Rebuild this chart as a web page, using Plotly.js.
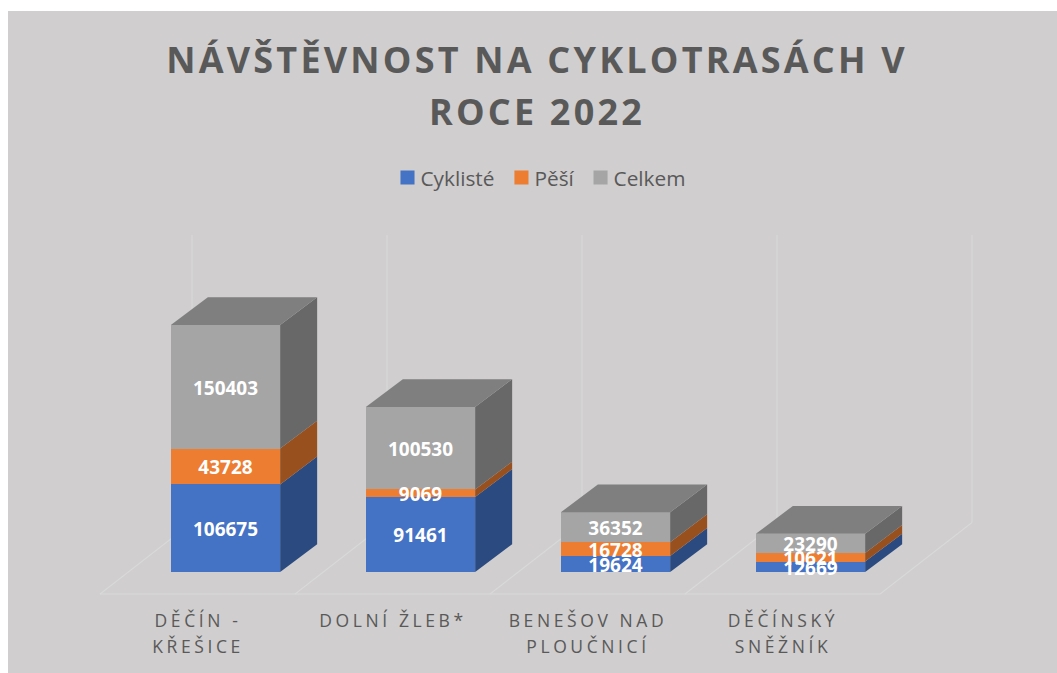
<!DOCTYPE html>
<html><head><meta charset="utf-8">
<script src="https://cdn.plot.ly/plotly-3.0.1.min.js"></script>
<style>
html,body{margin:0;padding:0;background:#fff;overflow:hidden}
#chart{position:absolute;left:8px;top:11px;width:1049px;height:662px}
.gtitle{letter-spacing:3.2px}
.xtick text{letter-spacing:3.6px}
.legend .traces:nth-child(1) .legendpoints path{transform:translateX(26px) scale(1.17)}
.legend .traces:nth-child(2) .legendpoints path{transform:translateX(21px) scale(1.17)}
.legend .traces:nth-child(3) .legendpoints path{transform:translateX(15px) scale(1.17)}
.legend .traces:nth-child(1) .legendtext{transform:translateX(-1px)}
.legend .traces:nth-child(2) .legendtext{transform:translateX(-6px)}
.legend .traces:nth-child(3) .legendtext{transform:translateX(-12px)}
</style></head><body><div id="chart"></div>
<script>
const categories=[["DĚČÍN -","KŘEŠICE"],["DOLNÍ ŽLEB*"],["BENEŠOV NAD","PLOUČNICÍ"],["DĚČÍNSKÝ","SNĚŽNÍK"]];
const cyklisté=[106675,91461,19624,12669];
const pěší=[43728,9069,16728,10621];
const celkem=[150403,100530,36352,23290];
const seriesNames=["Cyklisté","Pěší","Celkem"];
const frontColors=["#4472c4","#ed7d31","#a5a5a5"];
const sideColors=["#2a4a80","#98501f","#686868"];
const topColor="#7f7f7f";

// scale: page pixels per axis unit
const PX_X=195, K=1218;
const BAR_W=109.3/PX_X;
const DX=37/PX_X, DY=27.8*K;           // bar depth
const CX=92/PX_X, CY=71.5*K;            // floor depth
const LABEL_NUDGE=3*K;                  // text baseline correction
const idx=categories.map((_,i)=>i);
const series=[cyklisté,pěší,celkem];
const bases=series.map((s,k)=>s.map((_,i)=>series.slice(0,k).reduce((a,b)=>a+b[i],0)));

const traces=[];
series.forEach((s,k)=>{
  traces.push({type:'bar',name:seriesNames[k],x:idx,y:s,width:BAR_W,
    marker:{color:frontColors[k],line:{width:0}},hoverinfo:'skip'});
});
// side faces
series.forEach((s,k)=>{
  const xs=[],ys=[];
  idx.forEach(i=>{
    const r=i+BAR_W/2,b=bases[k][i],t=b+s[i];
    xs.push(r,r+DX,r+DX,r,r,null);
    ys.push(b,b+DY,t+DY,t,b,null);
  });
  traces.push({type:'scatter',mode:'lines',x:xs,y:ys,fill:'toself',fillcolor:sideColors[k],
    line:{width:0},showlegend:false,hoverinfo:'skip'});
});
// top faces
{
  const xs=[],ys=[];
  idx.forEach(i=>{
    const l=i-BAR_W/2,r=i+BAR_W/2,t=cyklisté[i]+pěší[i]+celkem[i];
    xs.push(l,r,r+DX,l+DX,l,null);
    ys.push(t,t,t+DY,t+DY,t,null);
  });
  traces.push({type:'scatter',mode:'lines',x:xs,y:ys,fill:'toself',fillcolor:topColor,
    line:{width:0},showlegend:false,hoverinfo:'skip'});
}
// data labels
series.forEach((s,k)=>{
  traces.push({type:'scatter',mode:'text',x:idx,y:s.map((v,i)=>bases[k][i]+v/2-LABEL_NUDGE),
    text:s.map(String),textposition:'middle center',
    textfont:{family:'"Open Sans",sans-serif',size:19,color:'#fff',weight:700},
    showlegend:false,hoverinfo:'skip'});
});

// grid lines of the floor and wall, as axis-referenced shapes beneath the bars
const GL={type:'line',xref:'x',yref:'y',layer:'below',line:{color:'#d9d9d9',width:1.2}};
const FRONT_Y=-22*K, TOP_Y=337*K, FIRST=(100-225.5)/PX_X;
const shapes=[Object.assign({},GL,{x0:FIRST,x1:FIRST+4,y0:FRONT_Y,y1:FRONT_Y})];
[0,1,2,3,4].forEach(i=>{
  const x=FIRST+i;
  shapes.push(Object.assign({},GL,{x0:x,x1:x+CX,y0:FRONT_Y,y1:FRONT_Y+CY}));
  shapes.push(Object.assign({},GL,{x0:x+CX,x1:x+CX,y0:FRONT_Y+CY,y1:TOP_Y}));
});

const SP=s=>'<span style="font-size:17.5px">'+s+'</span>';
const layout={
  width:1049,height:662,margin:{l:0,r:0,t:0,b:73,pad:0},
  paper_bgcolor:'#d0cece',plot_bgcolor:'rgba(0,0,0,0)',barmode:'stack',
  font:{family:'"Open Sans",sans-serif',color:'#595959'},
  title:{text:'<span style="font-size:36px">NÁVŠTĚVNOST NA CYKLOTRASÁCH V</span><br><span style="font-size:36px">ROCE 2022</span>',
    font:{family:'"Open Sans",sans-serif',size:40,color:'#595959',weight:700},
    x:(537-8)/1049,xanchor:'center',xref:'paper',y:1-(62/662),yanchor:'top',automargin:false},
  legend:{orientation:'h',x:(542-8)/1049,xanchor:'center',y:1-(146.5/589),yanchor:'top',yref:'paper',xref:'paper',
    font:{family:'"Open Sans",sans-serif',size:20.8,color:'#595959'},bgcolor:'rgba(0,0,0,0)',traceorder:'normal'},
  xaxis:{range:[(8-225.5)/PX_X,(1057-225.5)/PX_X],tickmode:'array',
    tickvals:idx.map(i=>i-27.5/PX_X),ticktext:categories.map(c=>c.map(SP).join('<br>')),
    tickfont:{family:'"Open Sans",sans-serif',size:20,color:'#595959'},
    ticks:'',showline:false,showgrid:false,zeroline:false,tickangle:0,ticklabelstandoff:6,fixedrange:true},
  yaxis:{range:[-28*K,561*K],visible:false,showgrid:false,zeroline:false,fixedrange:true},
  shapes:shapes,showlegend:true
};
Plotly.newPlot('chart',traces,layout,{displayModeBar:false,staticPlot:true});
</script></body></html>
